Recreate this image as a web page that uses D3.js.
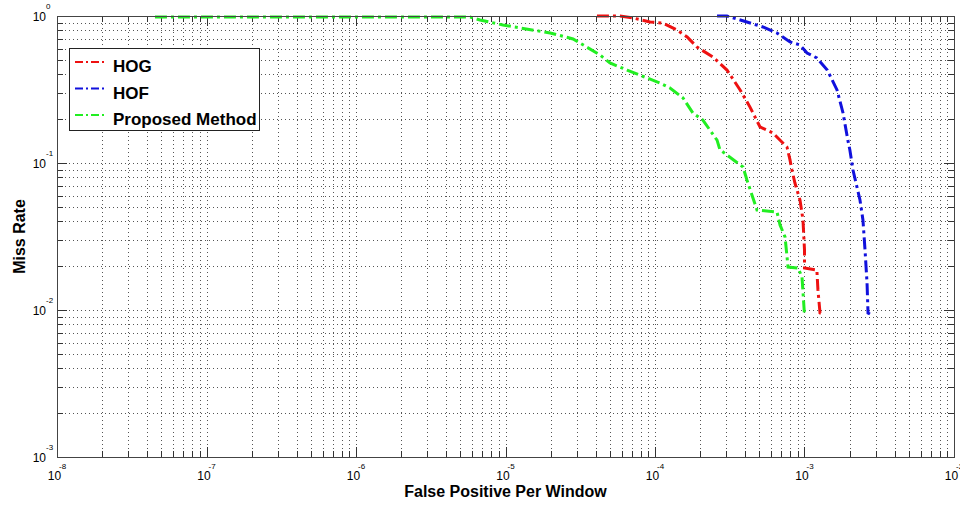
<!DOCTYPE html>
<html>
<head>
<meta charset="utf-8">
<script src="https://cdn.jsdelivr.net/npm/d3@7"></script>
<style>
  body { margin: 0; background: #fff; }
  text { font-family: "Liberation Sans", Arial, sans-serif; }
</style>
</head>
<body>
<svg id="chart" width="960" height="508"></svg>
<script>
// values (log-log miss rate vs FPPW)
var hogFppw = [4.09e-5, 5.83e-5, 7.13e-5, 9.27e-5, 1.13e-4, 1.40e-4, 1.64e-4, 1.91e-4, 2.44e-4, 3.03e-4,
    3.71e-4, 4.32e-4, 5.04e-4, 6.15e-4, 7.64e-4, 8.00e-4, 8.24e-4, 8.63e-4, 9.33e-4, 9.77e-4,
    1.0e-3, 1.0e-3, 1.21e-3, 1.23e-3, 1.27e-3, 1.33e-3];
var hogMiss = [1.0, 1.0, 0.969, 0.910, 0.896, 0.803, 0.720, 0.615, 0.526, 0.429,
    0.314, 0.240, 0.176, 0.160, 0.128, 0.105, 0.0896, 0.0731, 0.0560, 0.0410,
    0.0256, 0.0193, 0.0187, 0.0137, 0.00954, 0.00939];

var hofFppw = [2.60e-4, 3.03e-4, 4.12e-4, 5.27e-4, 6.55e-4, 8.00e-4, 9.33e-4, 1.04e-3, 1.21e-3, 1.42e-3,
    1.65e-3, 1.81e-3, 1.95e-3, 2.01e-3, 2.11e-3, 2.35e-3, 2.46e-3, 2.54e-3, 2.62e-3, 2.66e-3, 2.74e-3];
var hofMiss = [1.0, 1.0, 0.910, 0.842, 0.766, 0.666, 0.635, 0.560, 0.518, 0.429,
    0.314, 0.219, 0.143, 0.123, 0.0896, 0.0560, 0.0410, 0.0256, 0.0153, 0.00954, 0.00939];

var propFppw = [4.52e-8, 5.80e-6, 6.75e-6, 9.62e-6, 1.99e-5, 2.83e-5, 4.29e-5, 5.0e-5, 6.50e-5, 8.83e-5,
    1.08e-4, 1.26e-4, 1.54e-4, 1.79e-4, 2.09e-4, 2.60e-4, 2.72e-4, 3.88e-4, 4.12e-4, 4.81e-4,
    6.55e-4, 6.86e-4, 7.41e-4, 7.76e-4, 9.06e-4, 9.62e-4, 1.0e-3];
var propMiss = [0.984, 0.984, 0.939, 0.869, 0.766, 0.698, 0.543, 0.479, 0.429, 0.379,
    0.350, 0.324, 0.277, 0.219, 0.196, 0.143, 0.123, 0.0939, 0.0766, 0.0479,
    0.0464, 0.0379, 0.0314, 0.0196, 0.0193, 0.0168, 0.00925];

var seriesNames = ["HOG", "HOF", "Proposed Method"];
var seriesColors = ["#ee1111", "#1111dd", "#22ee22"];

var xExponents = [-8, -7, -6, -5, -4, -3, -2];
var yExponents = [-3, -2, -1, 0];

var svg = d3.select("#chart");
var plotL = 57, plotT = 16, plotR = 954, plotB = 457;

var x = d3.scaleLog().domain([1e-8, 1e-2]).range([plotL, plotR]);
var y = d3.scaleLog().domain([1e-3, 1]).range([plotB, plotT]);

// minor values for grid / ticks
var xMinor = [], yMinor = [];
xExponents.slice(0, -1).forEach(function (e) {
    for (var k = 2; k <= 9; k++) xMinor.push(k * Math.pow(10, e));
});
yExponents.slice(0, -1).forEach(function (e) {
    for (var k = 2; k <= 9; k++) yMinor.push(k * Math.pow(10, e));
});
var xMajor = xExponents.map(function (e) { return Math.pow(10, e); });
var yMajor = yExponents.map(function (e) { return Math.pow(10, e); });

// dotted grid
var grid = svg.append("g")
    .attr("stroke", "#555")
    .attr("stroke-width", 1)
    .attr("stroke-dasharray", "1,3");

grid.selectAll(".gx")
    .data(xMinor.concat(xMajor.slice(1, -1)))
    .enter().append("line")
    .attr("x1", d => Math.round(x(d)) + 0.5).attr("x2", d => Math.round(x(d)) + 0.5)
    .attr("y1", plotT).attr("y2", plotB);

grid.selectAll(".gy")
    .data(yMinor.concat(yMajor.slice(1, -1)))
    .enter().append("line")
    .attr("y1", d => Math.round(y(d)) + 0.5).attr("y2", d => Math.round(y(d)) + 0.5)
    .attr("x1", plotL).attr("x2", plotR);

// tick marks on all four sides, pointing inward
var ticks = svg.append("g").attr("stroke", "#333").attr("stroke-width", 1);
var allX = xMajor.map(d => [d, 10]).concat(xMinor.map(d => [d, 6]));
var allY = yMajor.map(d => [d, 10]).concat(yMinor.map(d => [d, 6]));

allX.forEach(function (t) {
    var px = Math.round(x(t[0])) + 0.5;
    ticks.append("line").attr("x1", px).attr("x2", px).attr("y1", plotB).attr("y2", plotB - t[1]);
    ticks.append("line").attr("x1", px).attr("x2", px).attr("y1", plotT).attr("y2", plotT + t[1]);
});
allY.forEach(function (t) {
    var py = Math.round(y(t[0])) + 0.5;
    ticks.append("line").attr("y1", py).attr("y2", py).attr("x1", plotL).attr("x2", plotL + t[1]);
    ticks.append("line").attr("y1", py).attr("y2", py).attr("x1", plotR).attr("x2", plotR - t[1]);
});

// curves
var line = d3.line()
    .x(d => x(d[0]))
    .y(d => y(d[1]));

var curves = [
    d3.zip(hogFppw, hogMiss),
    d3.zip(hofFppw, hofMiss),
    d3.zip(propFppw, propMiss)
];

svg.append("g")
    .selectAll("path")
    .data(curves)
    .enter().append("path")
    .attr("d", line)
    .attr("fill", "none")
    .attr("stroke", (d, i) => seriesColors[i])
    .attr("stroke-width", 3)
    .attr("stroke-dasharray", "12,4,3,4");

// box
svg.append("rect")
    .attr("x", plotL + 0.5).attr("y", plotT + 0.5)
    .attr("width", plotR - plotL).attr("height", plotB - plotT)
    .attr("fill", "none")
    .attr("stroke", "#444")
    .attr("stroke-width", 1);

// tick labels  10^e
xExponents.forEach(function (e) {
    var px = x(Math.pow(10, e));
    svg.append("text")
        .attr("x", px - 2.5).attr("y", 480)
        .attr("text-anchor", "middle")
        .attr("font-size", 12)
        .text("10");
    svg.append("text")
        .attr("x", px + 2).attr("y", 469)
        .attr("font-size", 8)
        .text(e);
});

yExponents.forEach(function (e) {
    var py = y(Math.pow(10, e));
    svg.append("text")
        .attr("x", 46).attr("y", py + 5)
        .attr("text-anchor", "end")
        .attr("font-size", 12)
        .text("10");
    svg.append("text")
        .attr("x", 46).attr("y", py - 7)
        .attr("font-size", 8)
        .text(e);
});

// axis titles
svg.append("text")
    .attr("x", (plotL + plotR) / 2).attr("y", 497)
    .attr("text-anchor", "middle")
    .attr("font-size", 16)
    .attr("font-weight", "bold")
    .text("False Positive Per Window");

svg.append("text")
    .attr("transform", "translate(25," + ((plotT + plotB) / 2) + ") rotate(-90)")
    .attr("text-anchor", "middle")
    .attr("font-size", 16)
    .attr("font-weight", "bold")
    .text("Miss Rate");

// legend
var legend = svg.append("g");
legend.append("rect")
    .attr("x", 69.5).attr("y", 48.5)
    .attr("width", 190).attr("height", 82)
    .attr("fill", "#fff")
    .attr("stroke", "#222");

var rows = legend.selectAll(".row")
    .data(seriesNames)
    .enter().append("g")
    .attr("transform", (d, i) => "translate(0," + (62 + i * 26.5) + ")");

rows.append("line")
    .attr("x1", 75).attr("x2", 104)
    .attr("y1", 0).attr("y2", 0)
    .attr("stroke", (d, i) => seriesColors[i])
    .attr("stroke-width", 2)
    .attr("stroke-dasharray", "8,3,2,3");

rows.append("text")
    .attr("x", 113).attr("y", 10)
    .attr("font-size", 17)
    .attr("font-weight", "bold")
    .text(d => d);
</script>
</body>
</html>
